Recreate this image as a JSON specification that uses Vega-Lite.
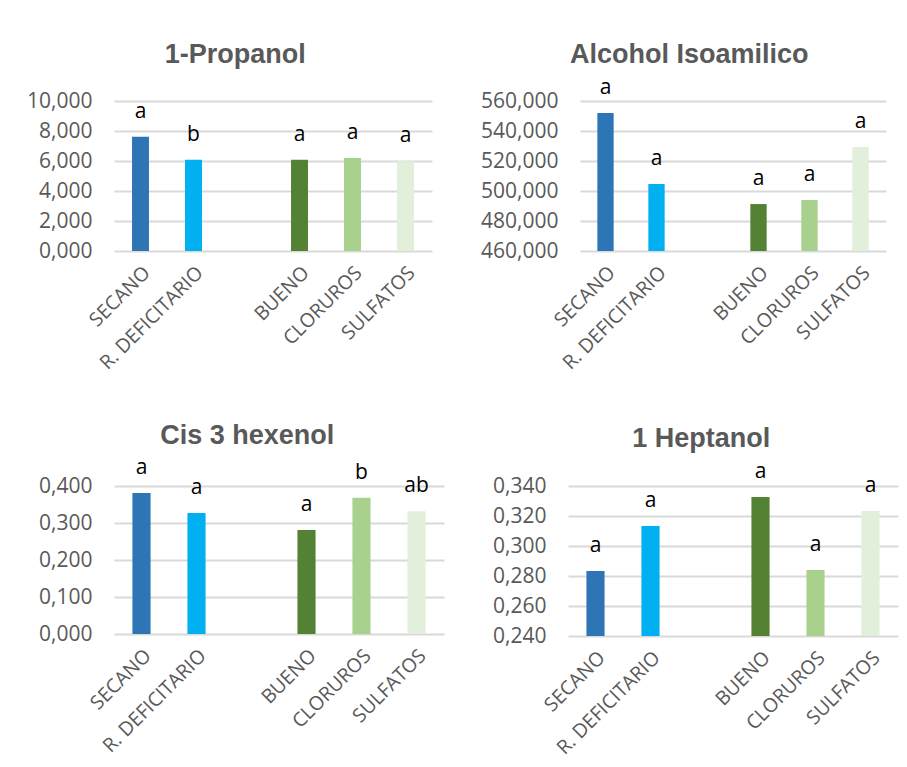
{
  "$schema": "https://vega.github.io/schema/vega-lite/v6.json",
  "background": "white",
  "padding": {"left": 26, "top": 40, "right": 5, "bottom": 5},
  "data": {"values": [
    {"compound": "1-Propanol", "treatment": "SECANO", "value": 7.62, "letter": "a"},
    {"compound": "1-Propanol", "treatment": "R. DEFICITARIO", "value": 6.08, "letter": "b"},
    {"compound": "1-Propanol", "treatment": "BUENO", "value": 6.08, "letter": "a"},
    {"compound": "1-Propanol", "treatment": "CLORUROS", "value": 6.2, "letter": "a"},
    {"compound": "1-Propanol", "treatment": "SULFATOS", "value": 5.98, "letter": "a"},
    {"compound": "Alcohol Isoamilico", "treatment": "SECANO", "value": 552.0, "letter": "a"},
    {"compound": "Alcohol Isoamilico", "treatment": "R. DEFICITARIO", "value": 504.7, "letter": "a"},
    {"compound": "Alcohol Isoamilico", "treatment": "BUENO", "value": 491.3, "letter": "a"},
    {"compound": "Alcohol Isoamilico", "treatment": "CLORUROS", "value": 494.0, "letter": "a"},
    {"compound": "Alcohol Isoamilico", "treatment": "SULFATOS", "value": 529.3, "letter": "a"},
    {"compound": "Cis 3 hexenol", "treatment": "SECANO", "value": 0.381, "letter": "a"},
    {"compound": "Cis 3 hexenol", "treatment": "R. DEFICITARIO", "value": 0.327, "letter": "a"},
    {"compound": "Cis 3 hexenol", "treatment": "BUENO", "value": 0.281, "letter": "a"},
    {"compound": "Cis 3 hexenol", "treatment": "CLORUROS", "value": 0.368, "letter": "b"},
    {"compound": "Cis 3 hexenol", "treatment": "SULFATOS", "value": 0.332, "letter": "ab"},
    {"compound": "1 Heptanol", "treatment": "SECANO", "value": 0.2833, "letter": "a"},
    {"compound": "1 Heptanol", "treatment": "R. DEFICITARIO", "value": 0.3133, "letter": "a"},
    {"compound": "1 Heptanol", "treatment": "BUENO", "value": 0.3327, "letter": "a"},
    {"compound": "1 Heptanol", "treatment": "CLORUROS", "value": 0.284, "letter": "a"},
    {"compound": "1 Heptanol", "treatment": "SULFATOS", "value": 0.3233, "letter": "a"}
  ]},
  "config": {
    "view": {"stroke": null},
    "font": "Open Sans",
    "title": {"font": "Liberation Sans", "fontSize": 27, "fontWeight": "bold", "color": "#595959", "anchor": "middle", "frame": "bounds", "dx": 6},
    "axisY": {"labelFont": "Open Sans", "labelFontSize": 21, "labelColor": "#595959", "domain": false, "ticks": false, "gridColor": "#d9d9d9", "gridWidth": 2, "labelPadding": 22, "title": null},
    "axisX": {"labelFont": "Open Sans", "labelFontSize": 19.5, "labelColor": "#595959", "labelAngle": -45, "domain": false, "ticks": false, "grid": false, "title": null, "labelPadding": 12}
  },
  "resolve": {"scale": {"x": "independent", "y": "independent"}},
  "spacing": 49,
  "vconcat": [
    {
      "hconcat": [
        {
          "title": {"text": "1-Propanol", "offset": 21},
          "width": 318, "height": 150,
          "transform": [{"filter": "datum.compound === '1-Propanol'"}],
          "encoding": {
            "x": {"field": "treatment", "type": "nominal", "scale": {"domain": ["SECANO", "R. DEFICITARIO", " ", "BUENO", "CLORUROS", "SULFATOS"], "paddingInner": 0.68, "paddingOuter": 0.34}},
            "y": {"field": "value", "type": "quantitative", "scale": {"domain": [0, 10], "nice": false, "clamp": true}, "axis": {"values": [0, 2, 4, 6, 8, 10], "labelExpr": "replace(format(datum.value, '.3f'), '.', ',')"}}
          },
          "layer": [
            {"mark": {"type": "bar"}, "encoding": {"color": {"field": "treatment", "type": "nominal", "scale": {"domain": ["SECANO", "R. DEFICITARIO", "BUENO", "CLORUROS", "SULFATOS"], "range": ["#2e75b6", "#00b0f0", "#548235", "#a9d18e", "#e2efda"]}, "legend": null}}},
            {"mark": {"type": "text", "dy": -19, "baseline": "alphabetic", "fontSize": 21, "color": "black", "font": "Open Sans"}, "encoding": {"text": {"field": "letter"}}}
          ]
        },
        {
          "title": {"text": "Alcohol Isoamilico", "offset": 8},
          "width": 306, "height": 150,
          "transform": [{"filter": "datum.compound === 'Alcohol Isoamilico'"}],
          "encoding": {
            "x": {"field": "treatment", "type": "nominal", "scale": {"domain": ["SECANO", "R. DEFICITARIO", " ", "BUENO", "CLORUROS", "SULFATOS"], "paddingInner": 0.68, "paddingOuter": 0.34}},
            "y": {"field": "value", "type": "quantitative", "scale": {"domain": [460, 560], "nice": false, "clamp": true, "zero": false}, "axis": {"values": [460, 480, 500, 520, 540, 560], "labelExpr": "replace(format(datum.value, '.3f'), '.', ',')"}}
          },
          "layer": [
            {"mark": {"type": "bar"}, "encoding": {"color": {"field": "treatment", "type": "nominal", "scale": {"domain": ["SECANO", "R. DEFICITARIO", "BUENO", "CLORUROS", "SULFATOS"], "range": ["#2e75b6", "#00b0f0", "#548235", "#a9d18e", "#e2efda"]}, "legend": null}}},
            {"mark": {"type": "text", "dy": -19, "baseline": "alphabetic", "fontSize": 21, "color": "black", "font": "Open Sans"}, "encoding": {"text": {"field": "letter"}}}
          ]
        }
      ],
      "spacing": 48,
      "resolve": {"scale": {"x": "independent", "y": "independent"}}
    },
    {
      "hconcat": [
        {
          "title": {"text": "Cis 3 hexenol", "offset": 7},
          "width": 330, "height": 148,
          "transform": [{"filter": "datum.compound === 'Cis 3 hexenol'"}],
          "encoding": {
            "x": {"field": "treatment", "type": "nominal", "scale": {"domain": ["SECANO", "R. DEFICITARIO", " ", "BUENO", "CLORUROS", "SULFATOS"], "paddingInner": 0.67, "paddingOuter": 0.335}},
            "y": {"field": "value", "type": "quantitative", "scale": {"domain": [0, 0.4], "nice": false, "clamp": true}, "axis": {"values": [0, 0.1, 0.2, 0.3, 0.4], "labelExpr": "replace(format(datum.value, '.3f'), '.', ',')"}}
          },
          "layer": [
            {"mark": {"type": "bar"}, "encoding": {"color": {"field": "treatment", "type": "nominal", "scale": {"domain": ["SECANO", "R. DEFICITARIO", "BUENO", "CLORUROS", "SULFATOS"], "range": ["#2e75b6", "#00b0f0", "#548235", "#a9d18e", "#e2efda"]}, "legend": null}}},
            {"mark": {"type": "text", "dy": -19, "baseline": "alphabetic", "fontSize": 21, "color": "black", "font": "Open Sans"}, "encoding": {"text": {"field": "letter"}}}
          ]
        },
        {
          "title": {"text": "1 Heptanol", "offset": 8},
          "width": 330, "height": 150,
          "transform": [{"filter": "datum.compound === '1 Heptanol'"}],
          "encoding": {
            "x": {"field": "treatment", "type": "nominal", "scale": {"domain": ["SECANO", "R. DEFICITARIO", " ", "BUENO", "CLORUROS", "SULFATOS"], "paddingInner": 0.67, "paddingOuter": 0.335}},
            "y": {"field": "value", "type": "quantitative", "scale": {"domain": [0.24, 0.34], "nice": false, "clamp": true, "zero": false}, "axis": {"values": [0.24, 0.26, 0.28, 0.3, 0.32, 0.34], "labelExpr": "replace(format(datum.value, '.3f'), '.', ',')"}}
          },
          "layer": [
            {"mark": {"type": "bar"}, "encoding": {"color": {"field": "treatment", "type": "nominal", "scale": {"domain": ["SECANO", "R. DEFICITARIO", "BUENO", "CLORUROS", "SULFATOS"], "range": ["#2e75b6", "#00b0f0", "#548235", "#a9d18e", "#e2efda"]}, "legend": null}}},
            {"mark": {"type": "text", "dy": -19, "baseline": "alphabetic", "fontSize": 21, "color": "black", "font": "Open Sans"}, "encoding": {"text": {"field": "letter"}}}
          ]
        }
      ],
      "spacing": 48,
      "resolve": {"scale": {"x": "independent", "y": "independent"}}
    }
  ]
}
